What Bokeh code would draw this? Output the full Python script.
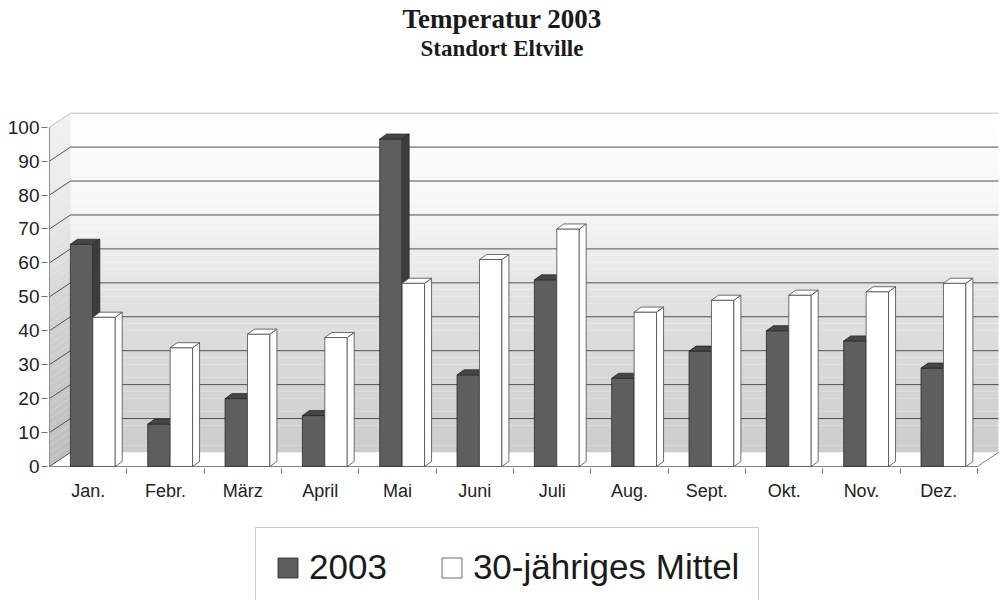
from bokeh.plotting import figure
from bokeh.layouts import column
from bokeh.models import Title, FixedTicker, Legend, LegendItem, Range1d, LinearAxis
from bokeh.embed import file_html
from bokeh.resources import INLINE

# ---------------- data ----------------
months = ["Jan.", "Febr.", "März", "April", "Mai", "Juni", "Juli",
          "Aug.", "Sept.", "Okt.", "Nov.", "Dez."]
values_2003 = [65.5, 12.5, 20, 15, 96.5, 27, 55, 26, 34, 40, 37, 29]
values_mittel = [44, 35, 39, 38, 54, 61, 70, 45.5, 49, 50.5, 51.5, 54]
y_ticks = [0, 10, 20, 30, 40, 50, 60, 70, 80, 90, 100]
series_names = ["2003", "30-jähriges Mittel"]
title_text = "Temperatur 2003"
subtitle_text = "Standort Eltville"

# ---------------- layout ----------------
W = 1000
H1, H2 = 515, 85
LEFT, TOP = 47, 100
BOTTOM = H1 - 468
X0 = -0.026
PXX = 77.33
X1 = X0 + (W - LEFT) / PXX
Y0, Y1 = -0.6, 107.86
px_x = (W - LEFT) / (X1 - X0)
px_y = (H1 - TOP - BOTTOM) / (Y1 - Y0)

n = len(months)
DX, DY = 21 / px_x, 14 / px_y          # wall depth
BDX, BDY = 7 / px_x, 5 / px_y          # bar depth
BW = 0.29                              # bar width
OFF = [0.27, 0.56]                     # bar offsets inside a category

SANS = "Liberation Sans"
SERIF = "Liberation Serif"

p = figure(width=W, height=H1, output_backend="svg", toolbar_location=None,
           title=None, x_range=Range1d(X0, X1), y_range=Range1d(Y0, Y1),
           x_axis_type=None, y_axis_type=None,
           min_border_left=LEFT, min_border_right=0,
           min_border_top=TOP, min_border_bottom=BOTTOM)
p.outline_line_color = None
p.background_fill_color = "white"
p.border_fill_color = "white"

# ---------------- walls with gradient ----------------
stops = [(0, 0xcd), (20, 0xd6), (45, 0xe2), (60, 0xee), (75, 0xf8), (100, 0xff)]


def shade(y, darker=0):
    for (a, ca), (b, cb) in zip(stops[:-1], stops[1:]):
        if a <= y <= b:
            c = ca + (cb - ca) * (y - a) / (b - a)
            break
    c = int(max(0, min(255, c - darker)))
    return "#%02x%02x%02x" % (c, c, c)


levels = list(range(0, 101, 2))
bw_l, bw_r, bw_b, bw_t, bw_c = [], [], [], [], []
lw_xs, lw_ys, lw_c = [], [], []
for a, b in zip(levels[:-1], levels[1:]):
    m = (a + b) / 2
    bw_l.append(DX)
    bw_r.append(n + DX)
    bw_b.append(a + DY)
    bw_t.append(b + DY)
    bw_c.append(shade(m))
    lw_xs.append([0, DX, DX, 0])
    lw_ys.append([a, a + DY, b + DY, b])
    lw_c.append(shade(m, 14))

p.quad(left=bw_l, right=bw_r, bottom=bw_b, top=bw_t, fill_color=bw_c,
       line_color=None)
p.patches(xs=lw_xs, ys=lw_ys, fill_color=lw_c, line_color=None)

# floor
p.patch(x=[0, n, n + DX, DX], y=[0, 0, DY, DY], fill_color="white",
        line_color=None)

# grid lines
g_xs, g_ys = [], []
for v in y_ticks[:-1]:
    if v == 0:
        g_xs.append([0, DX])
        g_ys.append([0, DY])
    else:
        g_xs.append([0, DX, n + DX])
        g_ys.append([v, v + DY, v + DY])
p.multi_line(xs=g_xs, ys=g_ys, line_color="#505050", line_width=1)
top_v = y_ticks[-1]
p.line(x=[0, DX, n + DX], y=[top_v, top_v + DY, top_v + DY],
       line_color="#c0c0c0", line_width=1)

# edges
p.line(x=[0, 0], y=[0, top_v], line_color="#909090", line_width=1)
p.line(x=[0, n, n + DX], y=[0, 0, DY], line_color="#808080", line_width=1)

# ---------------- bars ----------------
styles = [
    dict(front="#5e5e5e", side="#3c3c3c", top="#464646", line="#2a2a2a"),
    dict(front="#ffffff", side="#ffffff", top="#ffffff", line="#4a4a4a"),
]
for s, vals in enumerate([values_2003, values_mittel]):
    st = styles[s]
    lefts = [i + OFF[s] for i in range(n)]
    rights = [l + BW for l in lefts]
    p.quad(left=lefts, right=rights, bottom=[0] * n, top=vals,
           fill_color=st["front"], line_color=st["line"], line_width=0.8)
    side_xs = [[r, r + BDX, r + BDX, r] for r in rights]
    side_ys = [[0, BDY, v + BDY, v] for v in vals]
    p.patches(xs=side_xs, ys=side_ys, fill_color=st["side"],
              line_color=st["line"], line_width=0.8)
    top_xs = [[l, r, r + BDX, l + BDX] for l, r in zip(lefts, rights)]
    top_ys = [[v, v, v + BDY, v + BDY] for v in vals]
    p.patches(xs=top_xs, ys=top_ys, fill_color=st["top"],
              line_color=st["line"], line_width=0.8)

# ---------------- axes ----------------
yaxis = LinearAxis(ticker=FixedTicker(ticks=y_ticks, minor_ticks=[]),
                   axis_line_color=None, major_tick_line_color="#707070",
                   major_tick_out=6, major_tick_in=0, minor_tick_out=0,
                   major_label_standoff=2,
                   major_label_text_font=SANS,
                   major_label_text_font_size="19px",
                   major_label_text_color="#222222")
p.add_layout(yaxis, "left")

centers = [i + 0.5 for i in range(n)]
xaxis = LinearAxis(ticker=FixedTicker(ticks=centers,
                                      minor_ticks=list(range(1, n + 1))),
                   axis_line_color=None,
                   major_tick_out=0, major_tick_in=0,
                   minor_tick_out=5, minor_tick_in=0,
                   minor_tick_line_color="#707070",
                   major_label_standoff=7,
                   major_label_overrides={c: m for c, m in zip(centers, months)},
                   major_label_text_font=SANS,
                   major_label_text_font_size="18px",
                   major_label_text_color="#222222")
p.add_layout(xaxis, "below")

# ---------------- titles (spacer, subtitle, title) ----------------
p.add_layout(Title(text=" ", text_font_size="10px", standoff=27), "above")
p.add_layout(Title(text=subtitle_text, align="left", offset=373,
                   text_font=SERIF, text_font_style="bold",
                   text_font_size="23px", text_color="#1a1a1a",
                   standoff=0), "above")
p.add_layout(Title(text=title_text, align="left", offset=355,
                   text_font=SERIF, text_font_style="bold",
                   text_font_size="27px", text_color="#1a1a1a",
                   standoff=0), "above")

# ---------------- legend (separate strip below the chart) ----------------
q = figure(width=W, height=H2, output_backend="svg", toolbar_location=None,
           title=None, x_range=Range1d(0, 1), y_range=Range1d(0, 1),
           x_axis_type=None, y_axis_type=None,
           min_border_left=0, min_border_right=0,
           min_border_top=0, min_border_bottom=0)
q.outline_line_color = None
q.grid.visible = False
q.background_fill_color = "white"
q.border_fill_color = "white"
proxies = []
for s in range(2):
    st = styles[s]
    proxies.append(q.quad(left=[0], right=[0], bottom=[0], top=[0],
                          fill_color=st["front"], line_color=st["line"],
                          line_width=0.8))
legend = Legend(items=[LegendItem(label=series_names[0], renderers=[proxies[0]]),
                       LegendItem(label=series_names[1], renderers=[proxies[1]])],
                orientation="horizontal", location=(208, -7),
                glyph_width=25, glyph_height=25, label_standoff=9,
                spacing=52, padding=19, margin=0,
                label_text_font=SANS, label_text_font_size="35px",
                label_text_color="#1a1a1a",
                border_line_color="#999999", border_line_width=1,
                background_fill_color="white", background_fill_alpha=1)
q.add_layout(legend)

layout = column(p, q, spacing=0)
open("out.html", "w").write(file_html(layout, INLINE))
